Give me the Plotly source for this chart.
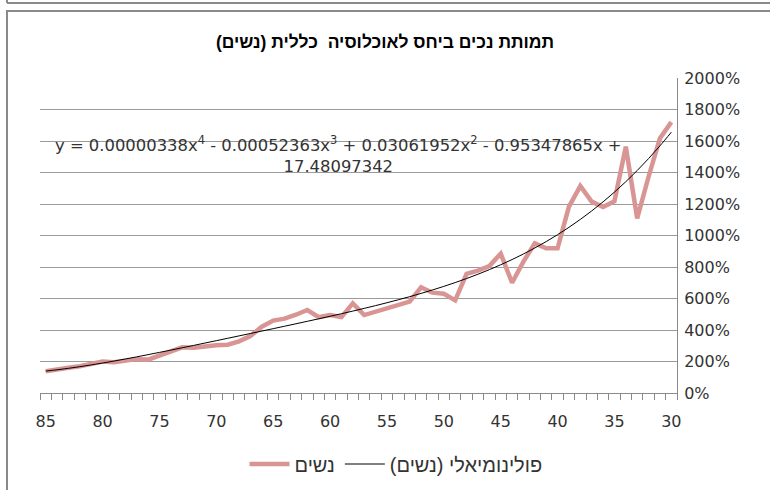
import plotly.graph_objects as go

# ages on the category axis (drawn right-to-left, 85 -> 30)
ages = list(range(85, 29, -1))

# mortality ratio of disabled women vs. general population, in %
women = [138, 152, 160, 170, 186, 200, 195, 205, 215, 212,
         238, 263, 290, 288, 298, 303, 307, 328, 362, 421,
         460, 472, 497, 527, 481, 495, 482, 569, 495, 516,
         531, 559, 580, 671, 637, 630, 588, 756, 777, 806,
         885, 700, 834, 950, 919, 919, 1183, 1314, 1215, 1181,
         1218, 1564, 1109, 1373, 1617, 1720]

# polynomial trendline coefficients as printed on the chart (x = 1 is age 30)
coef = [0.00000338, -0.00052363, 0.03061952, -0.95347865, 17.48097342]

tick_ages = [85, 80, 75, 70, 65, 60, 55, 50, 45, 40, 35, 30]

title_text = "תמותת נכים ביחס לאוכלוסיה  כללית (נשים)\u200f"
series_name = "נשים"
trend_name = "פולינומיאלי (נשים)\u200f"
equation = ("y = 0.00000338x<sup>4</sup> - 0.00052363x<sup>3</sup> + "
            "0.03061952x<sup>2</sup> - 0.95347865x +<br>17.48097342")


def trend(age):
    x = age - 29
    c4, c3, c2, c1, c0 = coef
    return 100 * (c4 * x**4 + c3 * x**3 + c2 * x**2 + c1 * x + c0)


def main():
    fig = go.Figure()
    fig.add_trace(go.Scatter(x=ages, y=women, mode="lines", name=series_name,
                             line=dict(color="#d99594", width=4.5)))
    fig.add_trace(go.Scatter(x=ages, y=[trend(a) for a in ages], mode="lines",
                             name=trend_name, line=dict(color="black", width=1, shape="spline")))

    # plot area in pixels: left 40, right 677, top 78, bottom 393
    L, R, T, B = 40, 677, 78, 393
    W, H = R - L, B - T

    def px(x):
        return (x - L) / W

    def py(y):
        return (B - y) / H

    frame = "#8a8a8a"
    fig.update_layout(
        width=770, height=490,
        margin=dict(l=L, r=770 - R, t=T, b=490 - B, autoexpand=False),
        paper_bgcolor="white", plot_bgcolor="white",
        font=dict(family="DejaVu Sans", size=16, color="#333333"),
        title=dict(text=title_text, x=0.5, xanchor="center", y=1 - 42 / 490, yanchor="middle",
                   font=dict(family="Liberation Sans", size=17.5, color="black", weight="bold")),
        showlegend=True,
        legend=dict(orientation="h", x=px(396), xanchor="center", y=py(464), yanchor="middle",
                    font=dict(family="Liberation Sans", size=20, color="#333333"),
                    bgcolor="rgba(0,0,0,0)", itemwidth=40),
        xaxis=dict(range=[85.5, 29.5], tickmode="array", tickvals=tick_ages,
                   ticktext=[str(a) for a in tick_ages], ticks="",
                   ticklabelstandoff=14,
                   showgrid=False, zeroline=False,
                   showline=True, linecolor=frame, linewidth=1,
                   minor=dict(ticks="outside", tickmode="linear", tick0=0.5, dtick=1,
                              ticklen=6, tickcolor=frame, showgrid=False),
                   tickfont=dict(size=16)),
        yaxis=dict(range=[0, 2000], dtick=200, side="right", ticksuffix="%",
                   showgrid=True, gridcolor="#9a9a9a", gridwidth=1, zeroline=False,
                   showline=True, linecolor=frame, linewidth=1,
                   ticks="", ticklabelstandoff=3,
                   minor=dict(ticks="outside", tickmode="linear", tick0=0, dtick=200,
                              ticklen=7, tickcolor=frame, showgrid=False),
                   tickfont=dict(size=16)),
    )

    fig.add_annotation(text=equation, xref="paper", yref="paper",
                       x=px(338.5), y=py(154), xanchor="center", yanchor="middle",
                       showarrow=False, align="center",
                       font=dict(family="DejaVu Sans", size=16.4, color="#333333"))

    # chart frame and the edge of the element above it
    fig.add_shape(type="rect", xref="paper", yref="paper",
                  x0=px(7), x1=px(790), y0=py(520), y1=py(11),
                  line=dict(color=frame, width=2), layer="below")
    fig.add_shape(type="line", xref="paper", yref="paper",
                  x0=px(7), x1=px(790), y0=py(3), y1=py(3),
                  line=dict(color=frame, width=2))
    fig.add_shape(type="line", xref="paper", yref="paper",
                  x0=px(7), x1=px(7), y0=py(3), y1=py(-5),
                  line=dict(color=frame, width=2))

    # drop the page's default body margin so the chart sits at the window corner
    fig.write_html("out.html", config={"displayModeBar": False},
                   post_script="document.body.style.margin='0';")


if __name__ == '__main__':
    main()
